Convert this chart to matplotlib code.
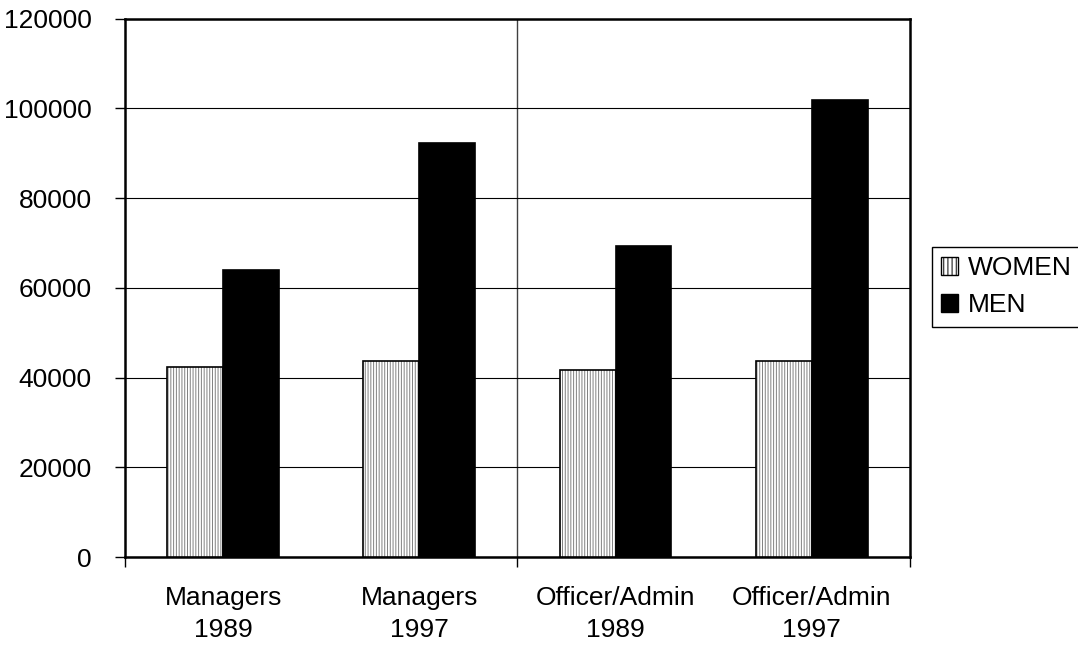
import numpy as np
import matplotlib.pyplot as plt
from matplotlib.patches import Patch

plt.rcParams['font.family'] = ['Liberation Sans', 'DejaVu Sans']
plt.rcParams['hatch.linewidth'] = 0.7

# donnees
categories = ['Managers\n1989', 'Managers\n1997', 'Officer/Admin\n1989', 'Officer/Admin\n1997']
women = [42400, 43700, 41700, 43700]
men = [64000, 92300, 69400, 101900]

fig = plt.figure(figsize=(10.78, 6.47), dpi=100)
ax = fig.add_axes([0.116, 0.139, 0.728, 0.832])

x = np.arange(len(categories))
w = 0.285

# femmes : hachures verticales grises + contour noir
ax.bar(x - w / 2, women, w, color='white', edgecolor='#808080', hatch='|' * 6, linewidth=0, zorder=3)
ax.bar(x - w / 2, women, w, fill=False, edgecolor='black', linewidth=1.2, zorder=4)
ax.bar(x + w / 2, men, w, color='black', edgecolor='black', linewidth=1.2, zorder=4)

ax.set_xlim(-0.5, 3.5)
ax.set_ylim(0, 120000)
ax.set_yticks(np.arange(0, 120001, 20000))
ax.set_yticklabels([str(v) for v in range(0, 120001, 20000)], fontsize=19)
ax.yaxis.grid(True, color='black', linewidth=0.8, zorder=1)
ax.axvline(1.5, color='#404040', linewidth=1.0, zorder=1)

# ticks entre les categories, labels au centre
ax.set_xticks([-0.5, 1.5, 3.5])
ax.set_xticklabels([])
ax.set_xticks(x, minor=True)
ax.set_xticklabels(categories, minor=True, fontsize=19, linespacing=1.42)
ax.tick_params(axis='x', which='minor', length=0, pad=21)
ax.tick_params(axis='x', which='major', length=7, width=1, direction='out')
ax.tick_params(axis='y', length=7, width=1, direction='out', pad=17)

for s in ax.spines.values():
    s.set_linewidth(1.8)

h_women = Patch(facecolor='white', edgecolor='black', hatch='|' * 4, linewidth=1)
h_men = Patch(facecolor='black', edgecolor='black')
leg = fig.legend([h_women, h_men], ['WOMEN', 'MEN'], loc='upper left',
                 bbox_to_anchor=(932 / 1078, 1 - 247 / 647), fontsize=19,
                 handlelength=0.65, handleheight=0.65, handletextpad=0.35,
                 fancybox=False, edgecolor='black', framealpha=1,
                 borderpad=0.35, labelspacing=0.5, borderaxespad=0)
leg.get_frame().set_linewidth(1.0)

fig.savefig('out.png', dpi=100)
